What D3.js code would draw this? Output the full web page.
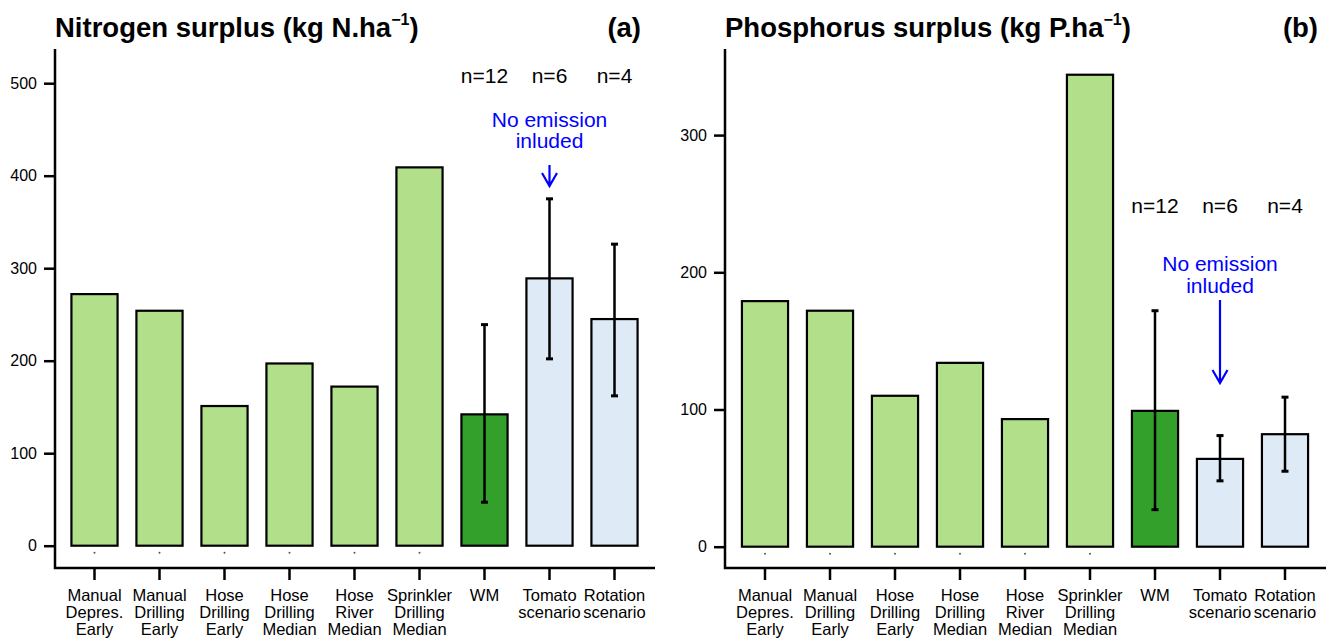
<!DOCTYPE html>
<html>
<head>
<meta charset="utf-8">
<script src="https://cdn.jsdelivr.net/npm/d3@7"></script>
<style>
  body { margin: 0; background: #fff; }
  svg { font-family: "Liberation Sans", Arial, Helvetica, sans-serif; }
</style>
</head>
<body>
<div id="chart"></div>
<script>
// Data
const CATEGORIES = [
  ["Manual", "Depres.", "Early"],
  ["Manual", "Drilling", "Early"],
  ["Hose", "Drilling", "Early"],
  ["Hose", "Drilling", "Median"],
  ["Hose", "River", "Median"],
  ["Sprinkler", "Drilling", "Median"],
  ["WM"],
  ["Tomato", "scenario"],
  ["Rotation", "scenario"]
];
const KINDS = ["farm", "farm", "farm", "farm", "farm", "farm", "wm", "scen", "scen"];

const N_VALUES = [272, 254, 151, 197, 172, 409, 142, 289, 245];
const N_LOW    = [null, null, null, null, null, null, 47, 202, 162];
const N_HIGH   = [null, null, null, null, null, null, 239, 375, 326];
const N_TICKS  = [0, 100, 200, 300, 400, 500];

const P_VALUES = [179, 172, 110, 134, 93, 344, 99, 64, 82];
const P_LOW    = [null, null, null, null, null, null, 27, 48, 55];
const P_HIGH   = [null, null, null, null, null, null, 172, 81, 109];
const P_TICKS  = [0, 100, 200, 300];

const N_COUNTS = ["n=12", "n=6", "n=4"];

const COLORS = {farm: "#b2df8a", wm: "#33a02c", scen: "#deebf7"};

const WIDTH = 1328, HEIGHT = 640;

const svg = d3.select("#chart")
  .append("svg")
    .attr("width", WIDTH)
    .attr("height", HEIGHT);

function drawPanel(p) {
  const g = svg.append("g");

  const x = d3.scaleBand()
    .domain(d3.range(CATEGORIES.length))
    .range([p.x0, p.x0 + 585])
    .paddingInner(0.29)
    .paddingOuter(0.145);

  const y = d3.scaleLinear()
    .domain([0, p.yMax])
    .range([p.zeroY, p.zeroY - p.yMax * p.pxPerUnit]);

  // Title
  const title = g.append("text")
    .attr("x", p.axisX)
    .attr("y", 37)
    .attr("font-size", "27.5px")
    .attr("font-weight", "bold");
  title.append("tspan").text(p.title);
  title.append("tspan").attr("font-size", "16px").attr("dy", -12).text("\u22121");
  title.append("tspan").attr("dy", 12).text(")");

  g.append("text")
    .attr("x", p.letterX)
    .attr("y", 37)
    .attr("text-anchor", "end")
    .attr("font-size", "27.5px")
    .attr("font-weight", "bold")
    .text(p.letter);

  // Y axis
  const yAxis = g.append("g")
    .attr("transform", "translate(" + p.axisX + ",0)")
    .call(d3.axisLeft(y).tickValues(p.ticks).tickSize(11).tickPadding(7).tickSizeOuter(0));
  yAxis.select(".domain").remove();
  yAxis.selectAll(".tick line").attr("stroke", "#000").attr("stroke-width", 2.5);
  yAxis.selectAll(".tick text")
    .attr("fill", "#000")
    .style("font-size", "16px")
    .style("font-family", "\"Liberation Sans\", Arial, sans-serif");

  // L-shaped box
  g.append("path")
    .attr("d", "M" + p.axisX + ",49V568H" + p.boxRight)
    .attr("fill", "none")
    .attr("stroke", "#000")
    .attr("stroke-width", 2.5);

  // X ticks and labels
  const xTicks = g.selectAll(".xt")
    .data(CATEGORIES)
    .enter()
    .append("g")
      .attr("transform", (d, i) => "translate(" + (x(i) + x.bandwidth() / 2) + ",0)");
  xTicks.append("line")
    .attr("y1", 568).attr("y2", 580)
    .attr("stroke", "#000").attr("stroke-width", 2.5);
  xTicks.append("text")
    .attr("text-anchor", "middle")
    .attr("font-size", "16.5px")
    .selectAll("tspan")
    .data((d) => d)
    .enter()
    .append("tspan")
      .attr("x", 0)
      .attr("y", (d, j) => 601 + j * 16.8)
      .text((d) => d);

  // Bars
  g.selectAll(".bar")
    .data(p.values)
    .enter()
    .append("rect")
      .attr("x", (d, i) => x(i))
      .attr("y", (d) => y(d))
      .attr("width", x.bandwidth())
      .attr("height", (d) => y(0) - y(d))
      .attr("fill", (d, i) => COLORS[KINDS[i]])
      .attr("stroke", "#000")
      .attr("stroke-width", 2.2);

  // small dots below single-farm bars
  g.selectAll(".dot")
    .data(p.values.filter((d, i) => KINDS[i] === "farm"))
    .enter()
    .append("circle")
      .attr("cx", (d, i) => x(i) + x.bandwidth() / 2)
      .attr("cy", p.zeroY + 7)
      .attr("r", 1)
      .attr("fill", "#555");

  // Error bars
  const errs = p.values.map((d, i) => ({i: i, lo: p.low[i], hi: p.high[i]}))
    .filter((d) => d.lo !== null);
  const eb = g.selectAll(".err")
    .data(errs)
    .enter()
    .append("g")
      .attr("transform", (d) => "translate(" + (x(d.i) + x.bandwidth() / 2) + ",0)");
  eb.append("line")
    .attr("y1", (d) => y(d.lo)).attr("y2", (d) => y(d.hi))
    .attr("stroke", "#000").attr("stroke-width", 2.5);
  eb.append("line")
    .attr("x1", -3.5).attr("x2", 3.5)
    .attr("y1", (d) => y(d.lo)).attr("y2", (d) => y(d.lo))
    .attr("stroke", "#000").attr("stroke-width", 3);
  eb.append("line")
    .attr("x1", -3.5).attr("x2", 3.5)
    .attr("y1", (d) => y(d.hi)).attr("y2", (d) => y(d.hi))
    .attr("stroke", "#000").attr("stroke-width", 3);

  // n= labels above WM and scenarios
  g.selectAll(".count")
    .data(N_COUNTS)
    .enter()
    .append("text")
      .attr("x", (d, i) => x(6 + i) + x.bandwidth() / 2)
      .attr("y", p.countY)
      .attr("text-anchor", "middle")
      .attr("font-size", "21px")
      .text((d) => d);

  // "No emission inluded" note and arrow at Tomato scenario
  const cx = x(7) + x.bandwidth() / 2;
  const note = g.append("text")
    .attr("text-anchor", "middle")
    .attr("font-size", "21px")
    .attr("fill", "#0000ff");
  note.append("tspan").attr("x", cx).attr("y", p.noteY).text("No emission");
  note.append("tspan").attr("x", cx).attr("y", p.noteY + 21.5).text("inluded");

  g.append("path")
    .attr("d", "M" + cx + "," + p.arrow[0] + "V" + p.arrow[1] +
               "M" + (cx - 7.5) + "," + (p.arrow[1] - 13) + "L" + cx + "," + p.arrow[1] +
               "L" + (cx + 7.5) + "," + (p.arrow[1] - 13))
    .attr("fill", "none")
    .attr("stroke", "#0000ff")
    .attr("stroke-width", 2.2);
}

drawPanel({
  title: "Nitrogen surplus (kg N.ha", letter: "(a)", letterX: 641,
  axisX: 55, boxRight: 655, x0: 62,
  values: N_VALUES, low: N_LOW, high: N_HIGH, ticks: N_TICKS,
  yMax: 537, zeroY: 545.7, pxPerUnit: 0.925,
  countY: 83, noteY: 126.5, arrow: [165, 186]
});

drawPanel({
  title: "Phosphorus surplus (kg P.ha", letter: "(b)", letterX: 1318,
  axisX: 725, boxRight: 1326, x0: 732.5,
  values: P_VALUES, low: P_LOW, high: P_HIGH, ticks: P_TICKS,
  yMax: 362, zeroY: 546.7, pxPerUnit: 1.372,
  countY: 213, noteY: 271, arrow: [300, 383]
});
</script>
</body>
</html>
